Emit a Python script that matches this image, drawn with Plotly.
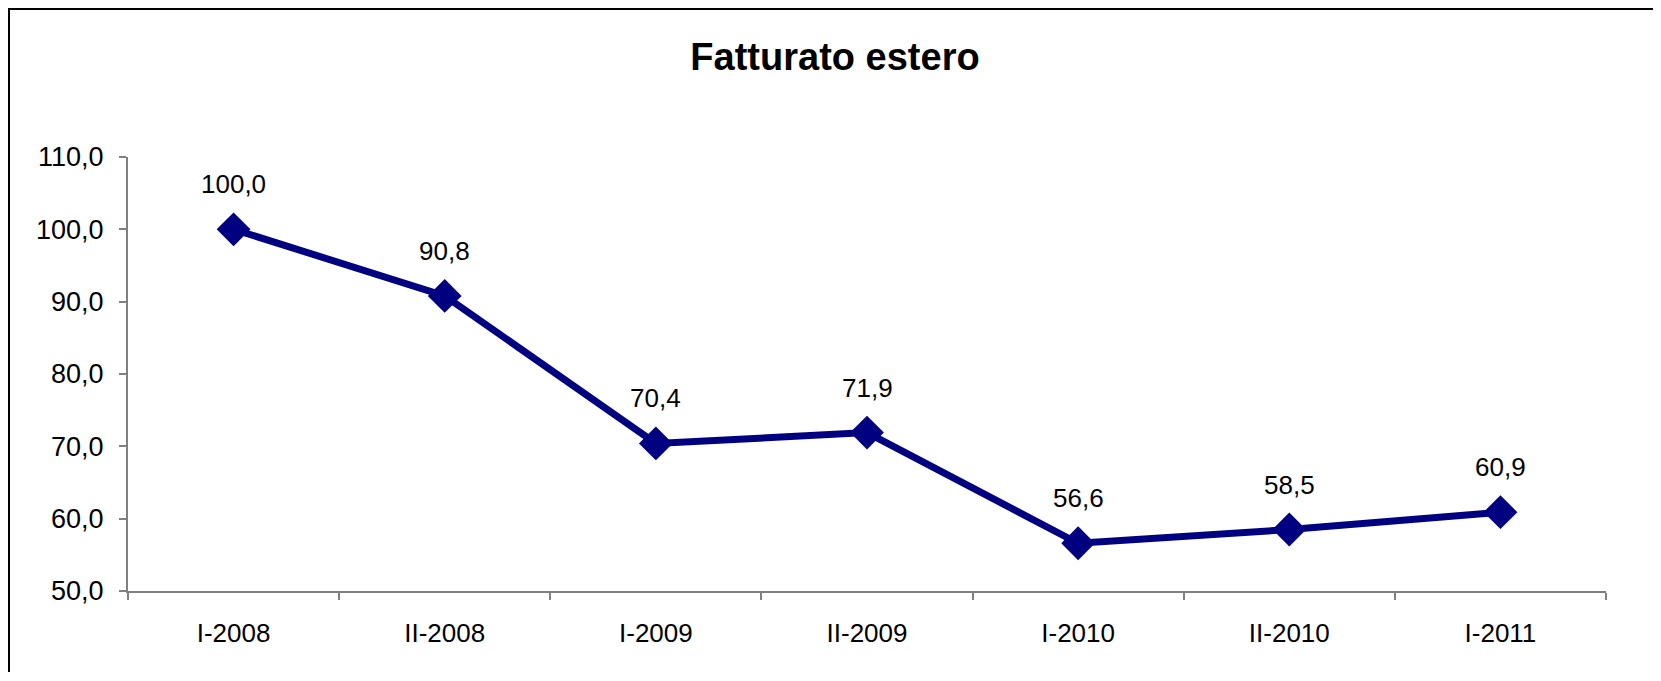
import plotly.graph_objects as go

# dati
periodi = ['I-2008', 'II-2008', 'I-2009', 'II-2009', 'I-2010', 'II-2010', 'I-2011']
fatturato = [100.0, 90.8, 70.4, 71.9, 56.6, 58.5, 60.9]
y_ticks = [50, 60, 70, 80, 90, 100, 110]

# la pagina html ha 8px di margine sul body: niente scrollbar
OFF = 8
W, H = 1661 - OFF, 681 - 2 * OFF - 1
# area del grafico in pixel (coordinate della figura)
L, R, T, B = 128 - OFF, 1606 - OFF, 157 - OFF, 591 - OFF

navy = '#000080'
font = 'Liberation Sans, Arial, sans-serif'

fig = go.Figure()
fig.add_trace(go.Scatter(
    x=periodi, y=fatturato,
    mode='lines+markers',
    line=dict(color=navy, width=7),
    marker=dict(symbol='diamond', size=26, color=navy),
    hoverinfo='skip', showlegend=False,
))

# etichette dei valori
for p, v in zip(periodi, fatturato):
    fig.add_annotation(
        x=p, y=v, text=f'{v:.1f}'.replace('.', ','),
        showarrow=False, yshift=45,
        font=dict(family=font, size=26, color='black'),
    )

# cornice esterna
pw, ph = R - L, B - T
fig.add_shape(
    type='rect', xref='paper', yref='paper',
    x0=(1 - L) / pw, x1=(1649 - L) / pw,
    y0=(B - 720) / ph, y1=(B - 1) / ph,
    line=dict(color='black', width=2), fillcolor='rgba(0,0,0,0)',
    layer='below',
)

fig.update_layout(
    width=W, height=H,
    margin=dict(l=L, r=W - R, t=T, b=H - B, autoexpand=False),
    paper_bgcolor='white', plot_bgcolor='white',
    separators=',.',
    title=dict(
        text='<b>Fatturato estero</b>',
        x=(835 - OFF) / W, xanchor='center',
        y=1 - (57 - OFF) / H, yanchor='middle',
        font=dict(family=font, size=38, color='black'),
    ),
    font=dict(family=font, size=26, color='black'),
)

fig.update_xaxes(
    type='category', range=[-0.5, len(periodi) - 0.5],
    showline=True, linecolor='#808080', linewidth=2,
    ticks='outside', tickson='boundaries', ticklen=7, tickcolor='#808080', tickwidth=2,
    ticklabelstandoff=18,
    showgrid=False, zeroline=False,
    tickfont=dict(family=font, size=26, color='black'),
)
fig.update_yaxes(
    range=[50, 110], tickvals=y_ticks, tickformat='.1f',
    showline=True, linecolor='#808080', linewidth=2,
    ticks='outside', ticklen=7, tickcolor='#808080', tickwidth=2,
    ticklabelstandoff=10,
    showgrid=False, zeroline=False,
    tickfont=dict(family=font, size=27, color='black'),
)

fig.write_html('out.html')
